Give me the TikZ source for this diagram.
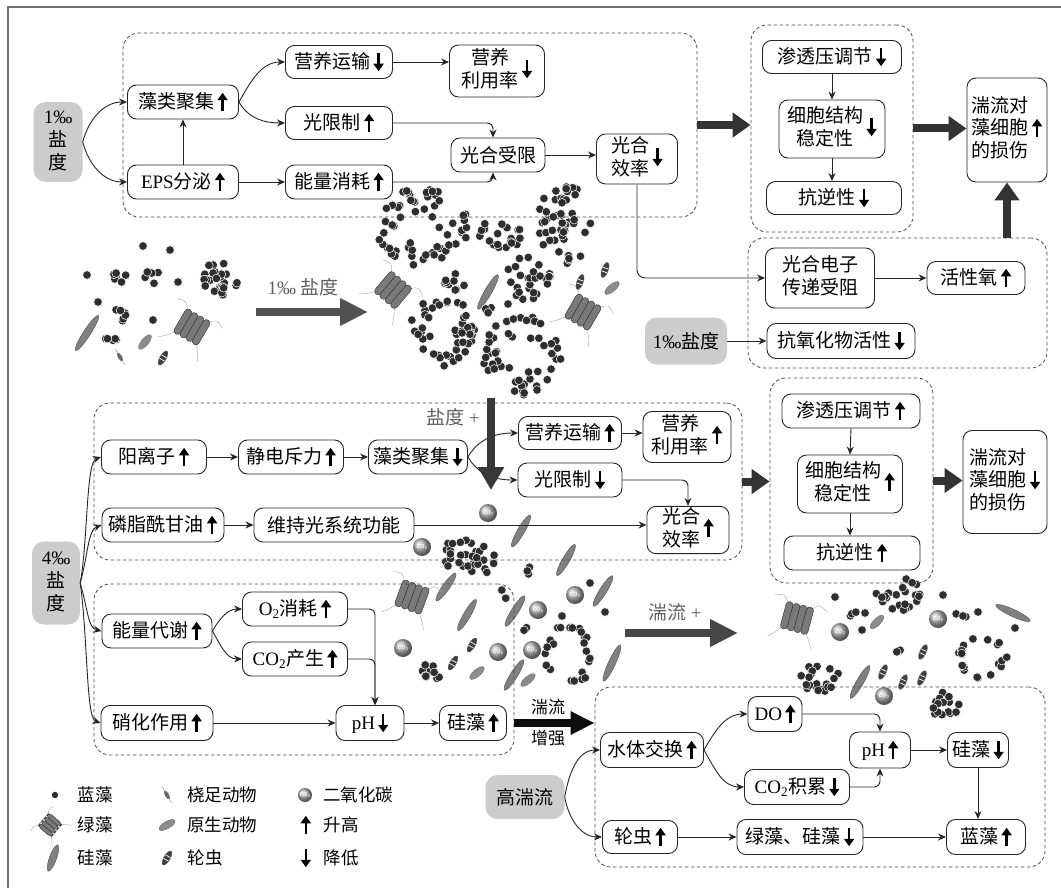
\documentclass[tikz,border=0pt]{standalone}
\usepackage{fontspec}
\setmainfont{Liberation Serif}
\newfontfamily\cj{Noto Sans CJK SC}
\usetikzlibrary{arrows.meta}

% Latin text (numbers, symbols) in a Times-like serif
\newcommand\lat[1]{{\rmfamily #1}}
% stacked lines inside a box
\newcommand\tl[1]{\begin{tabular}{@{}c@{}}#1\end{tabular}}
% bold up / down arrows used after a quantity
\newcommand\upa{\,\tikz[baseline=0pt]\draw[draw=black,fill=none,solid,sharp corners,line width=2.4pt,-{Triangle[length=7.5pt,width=10pt]}] (0pt,-3pt) -- (0pt,15.5pt);}
\newcommand\dna{\,\tikz[baseline=0pt]\draw[draw=black,fill=none,solid,sharp corners,line width=2.4pt,-{Triangle[length=7.5pt,width=10pt]}] (0pt,15.5pt) -- (0pt,-3pt);}

% organisms
\newcommand\mkdot[2]{\fill[dotc] (#1,#2) circle (4.3);}
% cx, cy, rx, ry, count, inner fraction (0 = filled colony, >0 = ring)
\newcommand\algblob[6]{%
  \foreach \i in {1,...,#5}{%
    \pgfmathsetmacro\rr{#6+(1-#6)*sqrt(rnd)}%
    \pgfmathsetmacro\aa{360*rnd}%
    \fill[dotc] ({#1+\rr*#3*cos(\aa)},{#2+\rr*#4*sin(\aa)}) circle (4.3);}}
\newcommand\mkdiatom[4]{\filldraw[diatc,rotate around={#3:(#1,#2)}] (#1,#2) ellipse ({#4/2} and 3.6);}
\newcommand\mkgreen[4]{%
  \begin{scope}[shift={(#1,#2)},rotate=#3,scale=#4]
    \draw[black!35,line width=0.4pt] (-12,-12) .. controls (-18,-20) .. (-27,-17);
    \draw[black!35,line width=0.4pt] (12,-12) .. controls (18,-19) .. (27,-14);
    \draw[black!35,line width=0.4pt] (-12,12) .. controls (-18,20) .. (-24,25);
    \draw[black!35,line width=0.4pt] (12,12) .. controls (18,20) .. (22,27);
    \foreach \k in {-1.5,-0.5,0.5,1.5}
      \filldraw[fill=black!52,draw=black!80,line width=0.45pt,rounded corners=3.4pt] ({\k*7-3.6},-14) rectangle ({\k*7+3.6},14);
  \end{scope}}
\newcommand\mkcotwo[4]{%
  \shade[ball color=black!30] (#1,#2) circle (#3);
  \node[cotxt] (co#4) at (#1,#2) {CO\textsubscript{2}};}
\newcommand\mkrotifer[3]{%
  \begin{scope}[shift={(#1,#2)},rotate=#3]
    \filldraw[fill=black!75,draw=black!60,line width=0.3pt] (0,0) ellipse (8 and 3.2);
    \draw[white,line width=0.7pt] (-2,-2.8) -- (-2,2.8) (2,-2.8) -- (2,2.8);
  \end{scope}}
\newcommand\mkproto[3]{\filldraw[fill=black!45,draw=black!60,line width=0.3pt,rotate around={#3:(#1,#2)}] (#1,#2) ellipse (9 and 3.6);}
\newcommand\mkcopepod[3]{%
  \begin{scope}[shift={(#1,#2)},rotate=#3]
    \draw[black!45,line width=0.4pt] (-9,0) -- (9,0);
    \filldraw[fill=black!60,draw=black!60,line width=0.3pt] (0,0) ellipse (4.5 and 1.8);
  \end{scope}}

\begin{document}
\begin{tikzpicture}[x=1pt,y=-1pt,
  box/.style={draw=black!85,line width=0.9pt,rounded corners=9pt,fill=white,inner sep=1pt,align=center,font=\fontsize{19}{22}\cj},
  salt/.style={fill=black!20,rounded corners=12pt,inner sep=1pt,align=center,font=\fontsize{19}{22}\cj},
  grp/.style={draw=black!70,dash pattern=on 3.5pt off 2.5pt,line width=0.8pt,rounded corners=16pt,inner sep=0pt},
  con/.style={draw=black!85,line width=0.9pt,-{Stealth[length=8pt,width=7pt]}},
  fat/.style={draw=black!80,line width=8pt,-{Triangle[length=18pt,width=24pt]}},
  fatg/.style={draw=black!68,line width=8pt,-{Triangle[length=28pt,width=26pt]}},
  lab/.style={text=black!62,font=\fontsize{19}{22}\cj,inner sep=0pt},
  lab2/.style={font=\fontsize{17}{20}\cj,inner sep=0pt},
  leg/.style={font=\fontsize{17.5}{20}\cj,inner sep=0pt},
  dotc/.style={fill=black!82,draw=white,line width=0.5pt},
  diatc/.style={fill=black!50,draw=black!70,line width=0.35pt},
  cotxt/.style={text=white,font=\fontsize{5.5}{6}\sffamily\bfseries,inner sep=0pt},
]
\useasboundingbox (0,0) rectangle (1061,888);
\pgfmathsetseed{11}

% frame
\coordinate (fr1) at (8,888);
\coordinate (fr2) at (8,7);
\coordinate (fr3) at (1061,7);
\draw[black!55,line width=1.2pt] (fr1) -- (fr2) -- (fr3);

% ---------- scattered community before salinity change ----------
\mkdot{87}{275}\mkdot{143}{246}\mkdot{170}{250}\mkdot{178}{282}\mkdot{98}{302}\mkdot{153}{320}
\algblob{118}{277}{10}{7}{7}{0}
\algblob{152}{277}{8}{9}{6}{0}
\algblob{123}{312}{8}{9}{6}{0}
\algblob{112}{338}{8}{6}{5}{0}
\algblob{220}{278}{19}{19}{24}{0}
\mkdiatom{87}{333}{57}{42}
\mkgreen{192}{327}{-30}{1}
\mkproto{145}{342}{50}
\mkcopepod{120}{357}{-60}
\mkrotifer{163}{358}{60}

% ---------- aggregated colonies at 1 permille ----------
\algblob{422}{226}{46}{40}{60}{0.3}
\algblob{500}{235}{27}{15}{20}{0}
\algblob{565}{222}{27}{42}{50}{0}
\algblob{528}{278}{23}{22}{26}{0}
\algblob{456}{285}{13}{12}{9}{0}
\algblob{443}{330}{33}{36}{50}{0.3}
\algblob{522}{355}{40}{40}{50}{0.35}
\mkdiatom{488}{292}{60}{40}
\algblob{487}{309}{6}{4}{3}{0}
\mkdot{508}{304}
\mkgreen{393}{290}{-40}{1}
\mkgreen{583}{312}{-30}{1}
\mkrotifer{580}{282}{70}
\mkrotifer{605}{270}{70}
\mkproto{612}{288}{40}

% ---------- community at 4 permille ----------
\mkcotwo{488}{513}{9}{1}\mkcotwo{422}{547}{9}{2}\mkcotwo{575}{595}{9}{3}
\mkcotwo{538}{610}{9}{4}\mkcotwo{403}{648}{9}{5}\mkcotwo{498}{652}{9}{6}\mkcotwo{532}{650}{9}{7}
\algblob{470}{555}{28}{22}{30}{0}
\algblob{530}{572}{5}{5}{3}{0}
\algblob{502}{596}{5}{6}{3}{0}
\algblob{522}{630}{5}{6}{3}{0}
\algblob{432}{673}{12}{11}{10}{0}
\algblob{569}{655}{24}{32}{24}{0.7}
\mkdot{590}{583}\mkdot{562}{616}\mkdot{605}{612}
\mkdiatom{521}{531}{60}{37}
\mkdiatom{566}{560}{60}{36}
\mkdiatom{446}{587}{55}{34}
\mkdiatom{467}{615}{60}{36}
\mkdiatom{515}{611}{58}{36}
\mkdiatom{603}{591}{58}{36}
\mkdiatom{514}{675}{58}{36}
\mkdiatom{612}{663}{65}{40}
\mkgreen{412}{597}{-20}{1}
\mkrotifer{472}{645}{60}
\mkrotifer{453}{663}{60}
\mkproto{477}{673}{40}
\mkproto{528}{680}{40}

% ---------- community under high turbulence ----------
\mkgreen{797}{618}{-15}{1}
\algblob{900}{595}{24}{17}{22}{0}
\algblob{820}{678}{22}{15}{22}{0}
\algblob{982}{657}{25}{22}{20}{0.65}
\algblob{940}{705}{22}{13}{15}{0}
\algblob{853}{613}{6}{5}{3}{0}
\algblob{897}{653}{6}{5}{3}{0}
\algblob{962}{613}{6}{5}{3}{0}
\mkdot{835}{597}\mkdot{865}{613}\mkdot{862}{630}\mkdot{943}{595}\mkdot{978}{612}\mkdot{1015}{628}
\mkcotwo{840}{632}{9}{8}\mkcotwo{938}{619}{9}{9}\mkcotwo{884}{696}{9}{10}
\mkdiatom{1013}{613}{-25}{38}
\mkdiatom{860}{682}{60}{38}
\mkproto{877}{622}{45}
\mkrotifer{923}{652}{65}
\mkrotifer{883}{672}{65}
\mkrotifer{903}{682}{65}
\mkrotifer{922}{678}{65}

% ---------- dashed groups ----------
\node[grp,minimum width=574,minimum height=184] (g1) at (410,125) {};
\node[grp,minimum width=162,minimum height=207] (g2) at (832,128.5) {};
\node[grp,minimum width=299,minimum height=130] (g3) at (897.5,303) {};
\node[grp,minimum width=648,minimum height=157] (g4) at (418,481.5) {};
\node[grp,minimum width=163,minimum height=205] (g5) at (851.5,480.5) {};
\node[grp,minimum width=420,minimum height=171] (g6) at (304,669.5) {};
\node[grp,minimum width=450,minimum height=180] (g7) at (820,777) {};

% ---------- 1 permille pathway ----------
\node[salt,minimum width=49,minimum height=80] (s1) at (58,142) {\tl{\lat{1‰}\\盐\\度}};
\node[box,minimum width=111,minimum height=34] (a1) at (183,102) {藻类聚集\upa};
\node[box,minimum width=111,minimum height=34] (a2) at (183,182) {\lat{EPS}分泌\upa};
\node[box,minimum width=107,minimum height=33] (a3) at (339,62) {营养运输\dna};
\node[box,minimum width=95,minimum height=52] (a4) at (497,71) {\tl{营养\\利用率}\dna};
\node[box,minimum width=107,minimum height=33] (a5) at (339,123) {光限制\upa};
\node[box,minimum width=107,minimum height=34] (a6) at (339,182) {能量消耗\upa};
\node[box,minimum width=94,minimum height=34] (a7) at (498,155) {光合受限};
\node[box,minimum width=81,minimum height=50] (a8) at (637,159) {\tl{光合\\效率}\dna};

\node[box,minimum width=139,minimum height=33] (b1) at (832,57) {渗透压调节\dna};
\node[box,minimum width=106,minimum height=58] (b2) at (832,129) {\tl{细胞结构\\稳定性}\dna};
\node[box,minimum width=135,minimum height=33] (b3) at (834,198) {抗逆性\dna};
\node[box,minimum width=80,minimum height=104] (c1) at (1007,130) {\tl{湍流对\\藻细胞\\的损伤}\upa};

\node[box,minimum width=109,minimum height=60] (r1) at (820,278) {\tl{光合电子\\传递受阻}};
\node[box,minimum width=98,minimum height=33] (r2) at (976,278) {活性氧\upa};
\node[box,minimum width=148,minimum height=35] (r3) at (841,341) {抗氧化物活性\dna};
\node[salt,minimum width=82,minimum height=47] (s2) at (686,341) {\lat{1‰}盐度};

% ---------- 4 permille pathway ----------
\node[salt,minimum width=48,minimum height=83] (s3) at (56,583) {\tl{\lat{4‰}\\盐\\度}};
\node[box,minimum width=105,minimum height=34] (m1) at (154,457) {阳离子\upa};
\node[box,minimum width=105,minimum height=34] (m2) at (291,457) {静电斥力\upa};
\node[box,minimum width=99,minimum height=34] (m3) at (418,457) {藻类聚集\dna};
\node[box,minimum width=103,minimum height=33] (m4) at (570,433) {营养运输\upa};
\node[box,minimum width=88,minimum height=51] (m5) at (687,437) {\tl{营养\\利用率}\upa};
\node[box,minimum width=104,minimum height=34] (m6) at (570,480) {光限制\dna};
\node[box,minimum width=82,minimum height=46] (m7) at (688,530) {\tl{光合\\效率}\upa};
\node[box,minimum width=122,minimum height=34] (m8) at (163,525) {磷脂酰甘油\upa};
\node[box,minimum width=160,minimum height=34] (m9) at (334,525) {维持光系统功能};

\node[box,minimum width=138,minimum height=34] (n1) at (851,411) {渗透压调节\upa};
\node[box,minimum width=105,minimum height=58] (n2) at (850,484) {\tl{细胞结构\\稳定性}\upa};
\node[box,minimum width=136,minimum height=34] (n3) at (852,553) {抗逆性\upa};
\node[box,minimum width=84,minimum height=103] (c2) at (1005,482) {\tl{湍流对\\藻细胞\\的损伤}\dna};

\node[box,minimum width=110,minimum height=34] (l1) at (157,631) {能量代谢\upa};
\node[box,minimum width=105,minimum height=34] (l2) at (295,609) {\lat{O\textsubscript{2}}消耗\upa};
\node[box,minimum width=105,minimum height=34] (l3) at (295,659) {\lat{CO\textsubscript{2}}产生\upa};
\node[box,minimum width=112,minimum height=35] (l4) at (157,723) {硝化作用\upa};
\node[box,minimum width=68,minimum height=35] (l5) at (370,723) {\lat{pH}\dna};
\node[box,minimum width=67,minimum height=35] (l6) at (473,723) {硅藻\upa};

% ---------- high turbulence pathway ----------
\node[salt,minimum width=79,minimum height=44] (s4) at (525,797) {高湍流};
\node[box,minimum width=103,minimum height=35] (h1) at (652,750) {水体交换\upa};
\node[box,minimum width=75,minimum height=33] (h2) at (640,837) {轮虫\upa};
\node[box,minimum width=54,minimum height=35] (h3) at (775,714) {\lat{DO}\upa};
\node[box,minimum width=105,minimum height=35] (h4) at (797,787) {\lat{CO\textsubscript{2}}积累\dna};
\node[box,minimum width=61,minimum height=36] (h5) at (880,750) {\lat{pH}\upa};
\node[box,minimum width=61,minimum height=35] (h6) at (978,750) {硅藻\dna};
\node[box,minimum width=126,minimum height=35] (h7) at (800,837) {绿藻、硅藻\dna};
\node[box,minimum width=79,minimum height=35] (h8) at (986,837) {蓝藻\upa};

% ---------- connectors ----------
\draw[con] (s1.east) to[out=75,in=180] (a1.west);
\draw[con] (s1.east) to[out=-75,in=180] (a2.west);
\draw[con] (a2.north) -- (a1.south);
\draw[con] (a2.east) -- (a6.west);
\draw[con] (a1.east) to[out=60,in=180] (a3.west);
\draw[con] (a1.east) to[out=-60,in=180] (a5.west);
\draw[con] (a3.east) -- (a4.west |- a3.east);
\draw[con,rounded corners=6pt] (a5.east) -| ([xshift=-5pt]a7.north);
\draw[con,rounded corners=6pt] (a6.east) -| ([xshift=-5pt]a7.south);
\draw[con] (a7.east) -- (a8.west |- a7.east);
\draw[con,rounded corners=8pt] (a8.south) |- (r1.west);
\draw[con] (b1.south) -- (b2.north);
\draw[con] (b2.south) -- (b2.south |- b3.north);
\draw[con] (r1.east) -- (r2.west);
\draw[con] (s2.east) -- (r3.west);

\draw[con] (s3.east) .. controls (88,540) and (86,462) .. (m1.west);
\draw[con] (s3.east) .. controls (88,555) and (88,530) .. (m8.west);
\draw[con] (s3.east) .. controls (88,610) and (88,628) .. (l1.west);
\draw[con] (s3.east) .. controls (88,640) and (86,718) .. (l4.west);
\draw[con] (m1.east) -- (m2.west);
\draw[con] (m2.east) -- (m3.west);
\draw[con] (m3.east) to[out=60,in=180] (m4.west);
\draw[con] (m3.east) to[out=-60,in=180] (m6.west);
\draw[con] (m4.east) -- (m5.west |- m4.east);
\draw[con,rounded corners=6pt] (m6.east) -| (m7.north);
\draw[con] (m8.east) -- (m9.west);
\draw[con] (m9.east) -- (m7.west |- m9.east);
\draw[con] (n1.south) -- (n2.north);
\draw[con] (n2.south) -- (n2.south |- n3.north);

\draw[con] (l1.east) to[out=60,in=180] (l2.west);
\draw[con] (l1.east) to[out=-60,in=180] (l3.west);
\draw[con,rounded corners=6pt] (l2.east) -| ([xshift=5pt]l5.north);
\draw[con,rounded corners=6pt] (l3.east) -| ([xshift=5pt]l5.north);
\draw[con] (l4.east) -- (l5.west);
\draw[con] (l5.east) -- (l6.west);

\draw[con] (s4.east) to[out=80,in=180] (h1.west);
\draw[con] (s4.east) to[out=-80,in=180] (h2.west);
\draw[con] (h1.east) to[out=60,in=180] (h3.west);
\draw[con] (h1.east) to[out=-60,in=180] (h4.west);
\draw[con,rounded corners=6pt] (h3.east) -| (h5.north);
\draw[con,rounded corners=6pt] (h4.east) -| (h5.south);
\draw[con] (h5.east) -- (h6.west);
\draw[con] (h6.south) -- (h6.south |- h8.north);
\draw[con] (h2.east) -- (h7.west);
\draw[con] (h7.east) -- (h8.west);

% ---------- block arrows ----------
\draw[fat] (g1.east) -- (g1.east -| g2.west);
\draw[fat] (g2.east) -- (g2.east -| c1.west);
\draw[fat] (g3.north -| c1) -- (c1.south);
\draw[fat] (g4.east) -- (g4.east -| g5.west);
\draw[fat] (g5.east) -- (g5.east -| c2.west);
\draw[fat,draw=black!95,-{Triangle[length=24pt,width=22pt]}] (g6.east |- l6.east) -- (l6.east -| g7.west);

\coordinate (p1) at (256,312);
\coordinate (p2) at (368,312);
\coordinate (p3) at (491,398);
\coordinate (p4) at (491,490);
\coordinate (p5) at (625,633);
\coordinate (p6) at (738,633);
\draw[fatg] (p1) -- (p2);
\draw[fatg,draw=black!78,-{Triangle[length=23pt,width=25pt]}] (p3) -- (p4);
\draw[fatg,draw=black!72] (p5) -- (p6);

% ---------- labels ----------
\node[lab] (t1) at (303,287) {\lat{1‰} 盐度};
\node[lab] (t2) at (453,417) {盐度 \lat{+}};
\node[lab] (t3) at (675,612) {湍流 \lat{+}};
\node[lab2] (t4) at (548,707) {湍流};
\node[lab2] (t5) at (548,738) {增强};

% ---------- legend ----------
\fill[dotc] (55,795) circle (3.6);
\mkgreen{50}{825}{50}{0.62}
\mkdiatom{53}{858}{70}{28}
\mkcopepod{167}{795}{-60}
\mkproto{167}{825}{30}
\mkrotifer{167}{858}{60}
\mkcotwo{305}{795}{7}{11}
\node[inner sep=0pt] (k1) at (305,825) {\upa};
\node[inner sep=0pt] (k2) at (305,858) {\dna};
\node[leg] (e1) at (95,795) {蓝藻};
\node[leg] (e2) at (95,825) {绿藻};
\node[leg] (e3) at (95,858) {硅藻};
\node[leg] (e4) at (222,795) {桡足动物};
\node[leg] (e5) at (222,825) {原生动物};
\node[leg] (e6) at (205,858) {轮虫};
\node[leg] (e7) at (358,795) {二氧化碳};
\node[leg] (e8) at (341,825) {升高};
\node[leg] (e9) at (341,858) {降低};
\end{tikzpicture}
\end{document}
